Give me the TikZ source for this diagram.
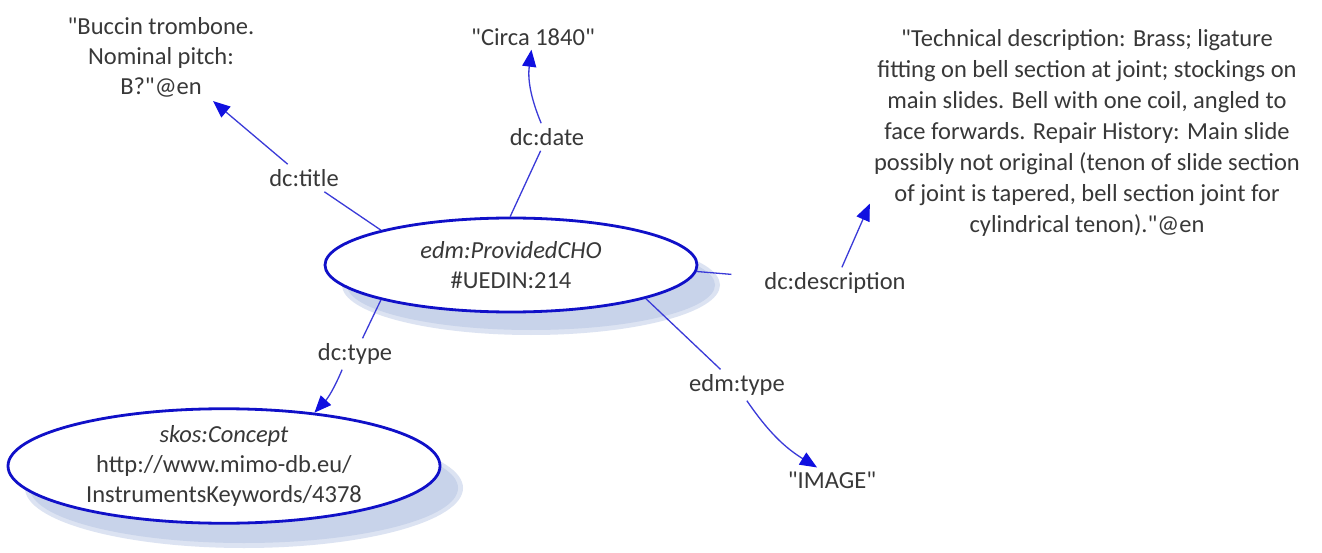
\documentclass[tikz,border=0pt]{standalone}
\usepackage{fontspec}
\setmainfont{Carlito}[Ligatures=TeXOff]
\usetikzlibrary{arrows.meta,calc,shapes.geometric}
\definecolor{txt}{HTML}{383838}
\definecolor{edgeblue}{HTML}{3A3AD8}
\definecolor{ellblue}{HTML}{1010C8}
\definecolor{tipblue}{HTML}{1010E0}
\definecolor{shadowc}{HTML}{C8D3EA}
\definecolor{shadowe}{HTML}{DCE3F2}
\begin{document}
\begin{tikzpicture}[x=1pt,y=-1pt,
  every node/.style={font=\fontsize{24.5}{30}\selectfont, text=txt},
  lit/.style={align=center, inner sep=4pt},
  prop/.style={inner sep=5pt},
  res/.style={ellipse, draw=ellblue, line width=2.8pt, fill=white, inner sep=0pt, align=center},
  conn/.style={draw=edgeblue, line width=1.3pt},
  arr/.style={conn, -{Triangle[length=17pt,width=14pt,color=tipblue]}}]
\useasboundingbox (0,0) rectangle (1322,553);
\fill[white] (0,0) rectangle (1322,553);
% shadows
\fill[shadowe] (531,285) ellipse [x radius=189pt, y radius=50pt];
\fill[shadowc] (531,285) ellipse [x radius=184pt, y radius=45pt];
\fill[shadowe] (244,488) ellipse [x radius=219pt, y radius=60pt];
\fill[shadowc] (244,488) ellipse [x radius=214pt, y radius=55pt];
% resources
\node[res, minimum width=372pt, minimum height=94pt] (cho) at (511,265) {\textit{edm:ProvidedCHO}\\\#UEDIN:214};
\node[res, minimum width=432pt, minimum height=114pt] (skos) at (224,466) {\textit{skos:Concept}\\http://www.mimo-db.eu/\\InstrumentsKeywords/4378};
% literals
\node[lit] (title) at (161,57) {"Buccin trombone.\\Nominal pitch:\\B?"@en};
\node[lit] (date) at (533,37) {"Circa 1840"};
\node[lit, font=\fontsize{24.5}{31}\selectfont] (desc) at (1087,133) {"Technical description: Brass; ligature\\fitting on bell section at joint; stockings on\\main slides. Bell with one coil, angled to\\face forwards. Repair History: Main slide\\possibly not original (tenon of slide section\\of joint is tapered, bell section joint for\\cylindrical tenon)."@en};
\node[lit] (image) at (832,480) {"IMAGE"};
% property labels
\node[prop] (ltitle) at (304,178) {dc:title};
\node[prop] (ldate) at (547,137) {dc:date};
\node[prop] (ldesc) at (835,283) {dc:description};
\node[prop] (letype) at (737,385) {edm:type};
\node[prop] (ltype) at (355,354) {dc:type};
% connectors
\draw[conn] (cho.165) -- (ltitle);
\draw[arr] (ltitle) -- (title);
\draw[conn] (cho.91) -- (ldate);
\draw[arr] (ldate) to[bend left=15] (date);
\draw[conn, shorten >=28pt] (cho.-2) -- (ldesc);
\coordinate (descin) at ($(desc.south west)+(0,-37)$);
\draw[arr] (ldesc) -- (descin);
\draw[conn] (cho.-14) -- (letype);
\draw[arr] (letype) to[bend right=12] (image.140);
\draw[conn] (cho.195) -- (ltype);
\draw[arr] (ltype) to[bend left=10] (skos);
\end{tikzpicture}
\end{document}
